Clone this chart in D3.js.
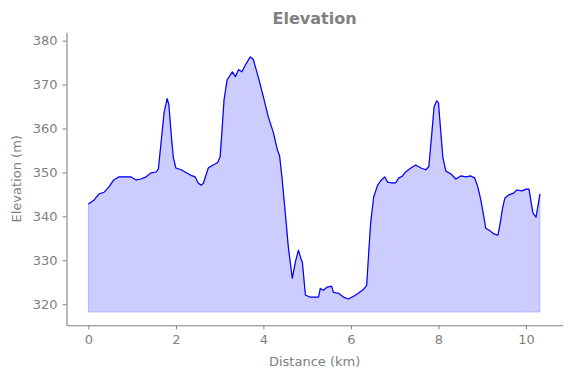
<!DOCTYPE html>
<html>
<head>
<meta charset="utf-8">
<script src="https://cdn.jsdelivr.net/npm/d3@7"></script>
<style>
  body { margin: 0; background: #fff; }
  svg text { font-family: "DejaVu Sans", sans-serif; fill: #808080; }
</style>
</head>
<body>
<svg id="chart" width="571" height="378"></svg>
<script>
// distance along the track (km) and elevation (m)
var distance = [0, 0.13, 0.24, 0.36, 0.47, 0.58, 0.7, 0.81, 0.97, 1.09, 1.2, 1.32, 1.43, 1.55, 1.6, 1.66, 1.73, 1.8, 1.84, 1.89, 1.94, 2.0, 2.12,
  2.21, 2.33, 2.44, 2.51, 2.58, 2.63, 2.74, 2.85, 2.95, 3.01, 3.05, 3.1, 3.17, 3.29, 3.36, 3.43, 3.51, 3.59, 3.7, 3.77, 3.88, 4.0, 4.11, 4.23,
  4.32, 4.37, 4.43, 4.5, 4.57, 4.66, 4.73, 4.8, 4.87, 4.89, 4.96, 5.07, 5.19, 5.26, 5.3, 5.37, 5.46, 5.56, 5.6, 5.72, 5.83, 5.94, 6.06, 6.17,
  6.29, 6.36, 6.4, 6.45, 6.52, 6.61, 6.68, 6.77, 6.84, 6.93, 7.02, 7.09, 7.18, 7.25, 7.37, 7.48, 7.6, 7.71, 7.78, 7.85, 7.9, 7.96, 8.0, 8.05,
  8.1, 8.17, 8.28, 8.4, 8.51, 8.63, 8.74, 8.83, 8.9, 8.97, 9.04, 9.08, 9.18, 9.27, 9.36, 9.41, 9.47, 9.52, 9.61, 9.72, 9.79, 9.91, 10.0,
  10.07, 10.11, 10.16, 10.23, 10.27, 10.32];
var elevation = [342.8, 343.7, 345.1, 345.5, 346.7, 348.3, 349, 349, 349, 348.3, 348.5, 349, 349.9, 350.1, 350.8, 356.7, 363.6, 366.8, 365.4, 359, 353.5, 351, 350.6,
  350.1, 349.4, 349, 347.6, 347.1, 347.6, 351, 351.7, 352.2, 353.5, 359, 366.5, 371.1, 372.9, 371.8, 373.4, 372.9, 374.5, 376.3, 375.7, 371.8, 367.2, 362.7, 359,
  355.1, 353.8, 348.3, 340.8, 333, 325.9, 329.6, 332.3, 330, 329.6, 322.1, 321.6, 321.6, 321.6, 323.6, 323.2, 323.9, 324.1, 322.7, 322.5, 321.6, 321.2, 321.8, 322.5,
  323.4, 324.3, 330.7, 338.4, 344.4, 347.1, 348.1, 349, 347.8, 347.6, 347.6, 348.7, 349.2, 350.1, 351, 351.7, 351, 350.6, 351.3, 359, 364.9, 366.3, 365.9, 359.7,
  353.5, 350.3, 349.7, 348.5, 349.2, 349, 349.2, 348.7, 346.7, 343.7, 339.8, 337.3, 336.7, 336, 335.7, 338.4, 342.1, 344.2, 344.9, 345.3, 346, 345.8, 346.2,
  346.2, 343.7, 340.8, 339.8, 342.1, 345.1];
var baseline = 318.2;
var xTicks = [0, 2, 4, 6, 8, 10];
var yTicks = [320, 330, 340, 350, 360, 370, 380];

var data = distance.map(function(d, i){ return {km: d, m: elevation[i]}; });

var svg = d3.select("#chart");
var margin = {top: 32.3, right: 8.3, bottom: 52.7, left: 66.5};
var w = 571 - margin.left - margin.right;
var h = 378 - margin.top - margin.bottom;
var g = svg.append("g").attr("transform", "translate(" + margin.left + "," + margin.top + ")");

var xScale = d3.scaleLinear().domain([-0.5, 10.84]).range([0, w]);
var yScale = d3.scaleLinear().domain([315.2, 381.9]).range([h, 0]);

var area = d3.area()
  .x(function(d){ return xScale(d.km); })
  .y0(yScale(baseline))
  .y1(function(d){ return yScale(d.m); });
var line = d3.line()
  .x(function(d){ return xScale(d.km); })
  .y(function(d){ return yScale(d.m); });

g.append("path").datum(data).attr("d", area)
  .attr("fill", "rgba(0,0,255,0.2)")
  .attr("stroke", "rgba(0,0,255,0.2)").attr("stroke-width", 1);
g.append("path").datum(data).attr("d", line)
  .attr("fill", "none").attr("stroke", "#0000ff").attr("stroke-width", 1.2)
  .attr("stroke-linejoin", "round");

var xAxis = g.append("g").attr("transform", "translate(0," + h + ")")
  .call(d3.axisBottom(xScale).tickValues(xTicks).tickSizeInner(4).tickSizeOuter(0).tickPadding(5).tickFormat(d3.format("d")));
var yAxis = g.append("g")
  .call(d3.axisLeft(yScale).tickValues(yTicks).tickSizeInner(4).tickSizeOuter(0).tickPadding(5).tickFormat(d3.format("d")));

[xAxis, yAxis].forEach(function(a){
  a.select(".domain").attr("stroke", "#808080").attr("stroke-width", 1.1);
  a.selectAll(".tick line").attr("stroke", "#808080");
  a.selectAll(".tick text").attr("fill", "#808080").style("font-size", "13px").attr("font-family", null);
});

svg.append("text").attr("x", margin.left + w / 2).attr("y", 24)
  .attr("text-anchor", "middle").style("font-size", "16px").style("font-weight", "bold")
  .text("Elevation");
svg.append("text").attr("x", margin.left + w / 2).attr("y", 366)
  .attr("text-anchor", "middle").style("font-size", "13px")
  .text("Distance (km)");
svg.append("text").attr("transform", "translate(21," + (margin.top + h / 2) + ") rotate(-90)")
  .attr("text-anchor", "middle").style("font-size", "13px")
  .text("Elevation (m)");
</script>
</body>
</html>
